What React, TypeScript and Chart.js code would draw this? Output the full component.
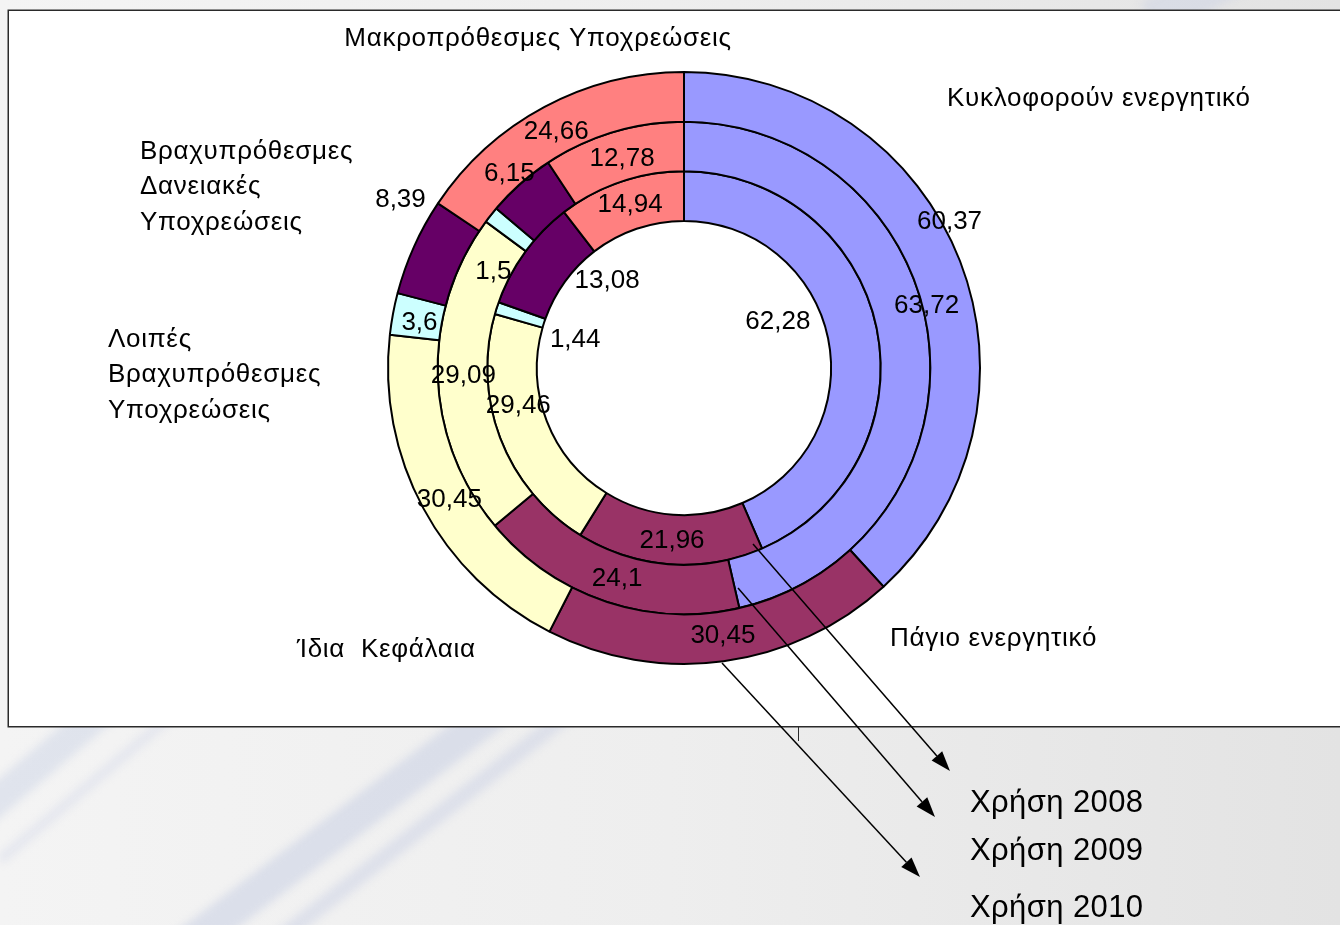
import React, { useEffect, useRef } from "react";
import { Chart, registerables } from "chart.js";

Chart.register(...registerables);

// ---- data ----
const categories = [
  "Κυκλοφορούν ενεργητικό",
  "Πάγιο ενεργητικό",
  "Ίδια Κεφάλαια",
  "Λοιπές Βραχυπρόθεσμες Υποχρεώσεις",
  "Βραχυπρόθεσμες Δανειακές Υποχρεώσεις",
  "Μακροπρόθεσμες Υποχρεώσεις",
];
const years = ["Χρήση 2008", "Χρήση 2009", "Χρήση 2010"];
const values2008 = [62.28, 21.96, 29.46, 1.44, 13.08, 14.94];
const values2009 = [63.72, 24.1, 29.09, 1.5, 6.15, 12.78];
const values2010 = [60.37, 30.45, 30.45, 3.6, 8.39, 24.66];
const colors = ["#9999FF", "#993366", "#FFFFCC", "#CCFFFF", "#660066", "#FF8080"];

// ---- label placement (offsets from the doughnut centre, at reference radius) ----
const REF_R = 296.5;
const labelPos2010 = [[266, -149], [39, 266], [-235, 130], [-265, -47], [-284, -171], [-128, -239]];
const labelPos2009 = [[243, -64], [-67, 209], [-221, 6], [-191, -98], [-175, -197], [-62, -212]];
const labelPos2008 = [[94, -48], [-12, 171], [-166, 36], [-109, -30], [-77, -89], [-54, -166]];

// category captions: lines, x, first baseline, align
const captions = [
  { lines: ["Μακροπρόθεσμες Υποχρεώσεις"], x: 538, y: 46, align: "center" },
  { lines: ["Κυκλοφορούν ενεργητικό"], x: 947, y: 106, align: "left" },
  { lines: ["Βραχυπρόθεσμες", "Δανειακές", "Υποχρεώσεις"], x: 140, y: 159, align: "left" },
  { lines: ["Λοιπές", "Βραχυπρόθεσμες", "Υποχρεώσεις"], x: 108, y: 347, align: "left" },
  { lines: ["Ίδια  Κεφάλαια"], x: 297, y: 657, align: "left" },
  { lines: ["Πάγιο ενεργητικό"], x: 890, y: 646, align: "left" },
];

// year captions and arrows (2008, 2009, 2010)
const yearTextPos = [[970, 812], [970, 860], [970, 917]];
const yearArrows = [
  [[753, 544], [950, 771]],
  [[738, 588], [935, 817]],
  [[722, 663], [920, 877]],
];

const FONT = '"Liberation Sans", Arial, sans-serif';

const fmt = (v: number) => String(v).replace(".", ",");

const backgroundPlugin = {
  id: "slideBackground",
  beforeDraw(chart: any) {
    const ctx = chart.ctx as CanvasRenderingContext2D;
    const W = chart.width;
    const H = chart.height;
    ctx.save();
    const g = ctx.createLinearGradient(0, 0, W, 0);
    g.addColorStop(0, "#f4f4f4");
    g.addColorStop(0.5, "#eeeeee");
    g.addColorStop(1, "#e3e3e3");
    ctx.fillStyle = g;
    ctx.fillRect(0, 0, W, H);

    // light diagonal swooshes
    ctx.filter = "blur(4px)";
    ctx.lineCap = "butt";
    const band = (x1: number, y1: number, x2: number, y2: number, w: number, c: string) => {
      ctx.strokeStyle = c;
      ctx.lineWidth = w;
      ctx.beginPath();
      ctx.moveTo(x1, y1);
      ctx.lineTo(x2, y2);
      ctx.stroke();
    };
    band(180, 950, 590, 640, 34, "rgba(200,208,228,0.55)");
    band(265, 950, 650, 650, 16, "rgba(205,212,230,0.55)");
    band(-50, 840, 150, 670, 30, "rgba(200,208,228,0.45)");
    band(0, 860, 190, 700, 10, "rgba(210,216,232,0.45)");
    band(1150, 20, 1300, -60, 40, "rgba(205,212,230,0.5)");
    ctx.filter = "none";

    // plot box
    ctx.fillStyle = "#ffffff";
    ctx.fillRect(8, 10, W, 717);
    ctx.strokeStyle = "#2a2a2a";
    ctx.lineWidth = 1.5;
    ctx.strokeRect(8.25, 10.25, W + 10, 716.5);
    ctx.lineWidth = 1;
    ctx.beginPath();
    ctx.moveTo(798.5, 727);
    ctx.lineTo(798.5, 741);
    ctx.stroke();
    ctx.restore();
  },
};

const labelPlugin = {
  id: "ringLabels",
  afterDraw(chart: any) {
    const ctx = chart.ctx as any;
    const arc0 = chart.getDatasetMeta(0).data[0];
    if (!arc0) return;
    const cx = arc0.x;
    const cy = arc0.y;
    const s = arc0.outerRadius / REF_R;
    const positions = [labelPos2010, labelPos2009, labelPos2008];
    ctx.save();

    // arrows
    ctx.strokeStyle = "#000";
    ctx.fillStyle = "#000";
    ctx.lineWidth = 1.5;
    yearArrows.forEach(([a, b]) => {
      const ang = Math.atan2(b[1] - a[1], b[0] - a[0]);
      const L = 20;
      const hw = 7;
      const bx = b[0] - L * Math.cos(ang);
      const by = b[1] - L * Math.sin(ang);
      ctx.beginPath();
      ctx.moveTo(a[0], a[1]);
      ctx.lineTo(bx, by);
      ctx.stroke();
      ctx.beginPath();
      ctx.moveTo(b[0], b[1]);
      ctx.lineTo(bx + hw * Math.sin(ang), by - hw * Math.cos(ang));
      ctx.lineTo(bx - hw * Math.sin(ang), by + hw * Math.cos(ang));
      ctx.closePath();
      ctx.fill();
    });

    // value labels
    ctx.font = `26px ${FONT}`;
    ctx.textAlign = "center";
    ctx.textBaseline = "alphabetic";
    ctx.letterSpacing = "0px";
    chart.data.datasets.forEach((ds: any, i: number) => {
      const pos = positions[i];
      ds.data.forEach((v: number, j: number) => {
        ctx.fillText(fmt(v), cx + pos[j][0] * s, cy + pos[j][1] * s + 9.3);
      });
    });

    // category captions
    ctx.letterSpacing = "0.7px";
    captions.forEach((c) => {
      ctx.textAlign = c.align;
      c.lines.forEach((line, k) => {
        ctx.fillText(line, c.x, c.y + k * 35.3);
      });
    });

    // year captions
    ctx.font = `31px ${FONT}`;
    ctx.letterSpacing = "0.4px";
    ctx.textAlign = "left";
    years.forEach((y, i) => {
      ctx.fillText(y, yearTextPos[i][0], yearTextPos[i][1]);
    });
    ctx.letterSpacing = "0px";
    ctx.restore();
  },
};

export default function App() {
  const ref = useRef<HTMLCanvasElement | null>(null);
  useEffect(() => {
    if (!ref.current) return;
    const ds = (label: string, data: number[]) => ({
      label,
      data,
      backgroundColor: colors,
      borderColor: "#000",
      borderWidth: 2,
    });
    const chart = new Chart(ref.current, {
      type: "doughnut",
      data: {
        labels: categories,
        datasets: [ds(years[2], values2010), ds(years[1], values2009), ds(years[0], values2008)],
      },
      options: {
        responsive: false,
        animation: false,
        devicePixelRatio: 1,
        cutout: "49.7%",
        events: [],
        layout: { padding: { left: 387, right: 359, top: 71, bottom: 260 } },
        plugins: { legend: { display: false }, tooltip: { enabled: false } },
      } as any,
      plugins: [backgroundPlugin, labelPlugin],
    });
    return () => chart.destroy();
  }, []);
  return (
    <div style={{ position: "absolute", left: 0, top: 0, width: 1340, height: 925, overflow: "hidden" }}>
      <canvas ref={ref} width={1340} height={925} style={{ display: "block", width: 1340, height: 925 }} />
    </div>
  );
}
